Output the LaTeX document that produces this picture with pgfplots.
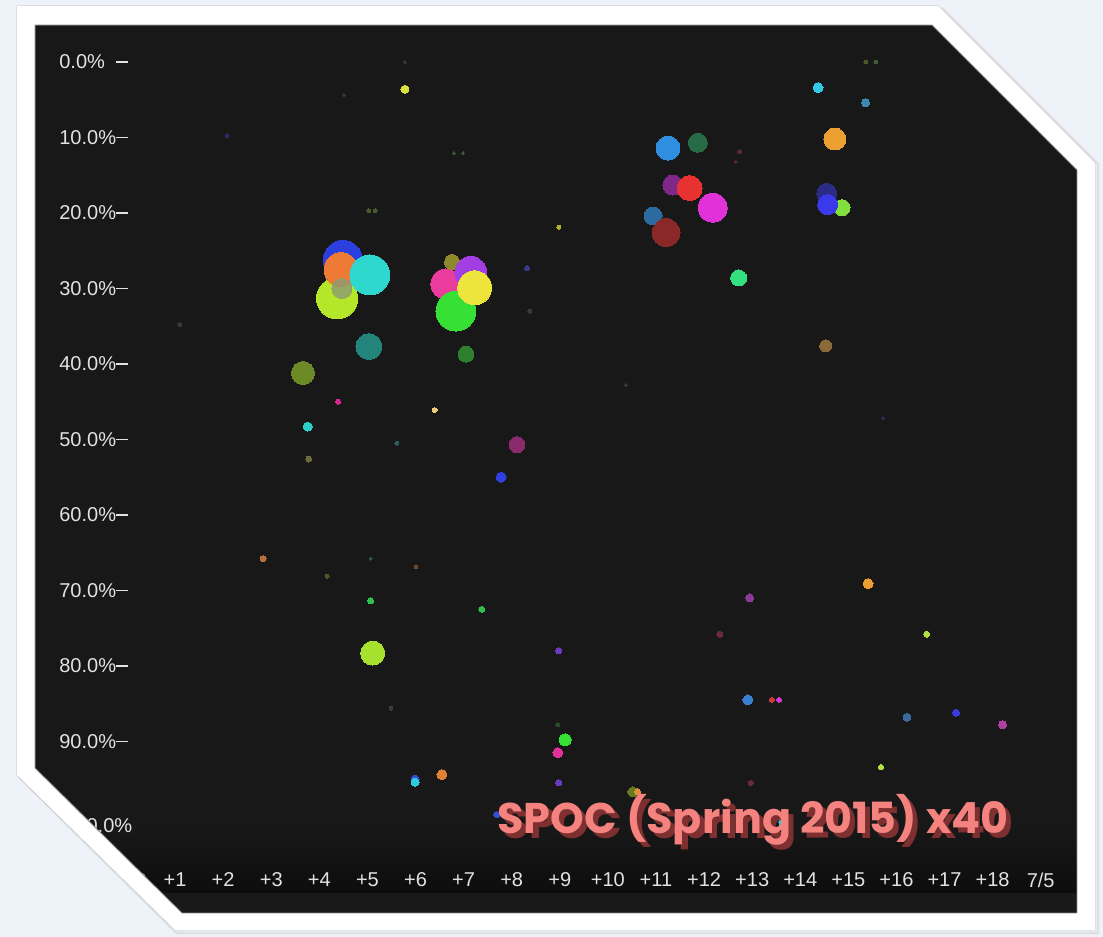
\documentclass[border=0pt]{standalone}
\usepackage{pgfplots}
\pgfplotsset{compat=1.18}
\usepackage{fontspec}
\setmainfont{Liberation Sans}
\newfontfamily\titlefont{Poppins}
% colours
\definecolor{pagebg}{HTML}{EEF3F9}
\definecolor{darkbg}{HTML}{181818}
\definecolor{lbl}{HTML}{E2E2E2}
\definecolor{titlec}{HTML}{F4837F}
\definecolor{titlesh}{HTML}{7E3030}
\definecolor{blueA}{HTML}{2B3FE0}
\definecolor{orangeA}{HTML}{EE7A36}
\definecolor{limeA}{HTML}{B4E62A}
\definecolor{grayA}{HTML}{8C9C72}
\definecolor{cyanA}{HTML}{2ED8CF}
\definecolor{oliveA}{HTML}{8E8A2C}
\definecolor{pinkA}{HTML}{EA3C9C}
\definecolor{purpleA}{HTML}{A23EE2}
\definecolor{yellowA}{HTML}{EDE43C}
\definecolor{greenA}{HTML}{36E034}
\definecolor{tealA}{HTML}{23847C}
\definecolor{olivegA}{HTML}{6C8A26}
\definecolor{dgreenA}{HTML}{2E802E}
\definecolor{yelS}{HTML}{D8E040}
\definecolor{blueB}{HTML}{2F8EE0}
\definecolor{dgreenB}{HTML}{276C47}
\definecolor{purpleB}{HTML}{80278A}
\definecolor{redB}{HTML}{E83232}
\definecolor{magB}{HTML}{E032D8}
\definecolor{steelB}{HTML}{2B6BA0}
\definecolor{dredB}{HTML}{8A2828}
\definecolor{cyanC}{HTML}{32C8E8}
\definecolor{steelC}{HTML}{3A8AB0}
\definecolor{orangeC}{HTML}{EDA032}
\definecolor{dblueC}{HTML}{2C2C88}
\definecolor{limeC}{HTML}{80E03C}
\definecolor{blueC}{HTML}{3A3AEA}
\definecolor{gtealC}{HTML}{32E080}
\definecolor{brownC}{HTML}{8A6A36}
\definecolor{cyanD}{HTML}{2AD0C8}
\definecolor{pinkD}{HTML}{D02890}
\definecolor{orwD}{HTML}{F0C878}
\definecolor{mpD}{HTML}{8A2A6C}
\definecolor{blueD}{HTML}{3040E0}
\definecolor{olivefD}{HTML}{6A6A40}
\definecolor{orfD}{HTML}{B87040}
\definecolor{greenD}{HTML}{30C050}
\definecolor{limeD}{HTML}{A8E030}
\definecolor{purD}{HTML}{6A3AC0}
\definecolor{pinkE}{HTML}{E0329A}
\definecolor{orangeE}{HTML}{E08032}
\definecolor{blueE}{HTML}{3050D0}
\definecolor{cyanE}{HTML}{30C8E0}
\definecolor{olivE}{HTML}{6A7A20}
\definecolor{orangeF}{HTML}{E09040}
\definecolor{purG}{HTML}{8A3A9A}
\definecolor{dredG}{HTML}{6A2A3A}
\definecolor{limeG}{HTML}{B0E040}
\definecolor{blueG}{HTML}{3A80D0}
\definecolor{redG}{HTML}{D03A3A}
\definecolor{magG}{HTML}{D03AD0}
\definecolor{steelG}{HTML}{3A6AA0}
\definecolor{blueH}{HTML}{3A3AE0}
\definecolor{magH}{HTML}{B040A0}
\definecolor{fA}{HTML}{3A3A30}
\definecolor{fB}{HTML}{4A5A2A}
\definecolor{fC}{HTML}{2A2A6A}
\definecolor{fD}{HTML}{B0B030}
\definecolor{fE}{HTML}{3A3A8A}
\definecolor{fF}{HTML}{3A5A3A}
\definecolor{fG}{HTML}{5A2A2A}
\definecolor{fH}{HTML}{2A5A5A}
\definecolor{fI}{HTML}{6A4A30}
\definecolor{fJ}{HTML}{3A3A3A}
\definecolor{fK}{HTML}{2A4A2A}
% x = day offset, y = percentage, r = bubble radius (px), colour
\newcommand{\bub}[4]{\addplot[only marks, color=#4, mark=*, mark size={#3*0.5669pt}, mark options={solid, fill=#4, draw=#4, line width=0pt}] coordinates {(#1,#2)};}
\newcommand{\bubo}[5]{\addplot[only marks, color=#4, mark=*, mark size={#3*0.5669pt}, mark options={solid, fill=#4, draw=#4, line width=0pt, opacity=#5}] coordinates {(#1,#2)};}
\newcommand{\outerpoly}{(17,6) -- (938,6) -- (1095,163) -- (1095,930) -- (175,930) -- (17,775) -- cycle}
\newcommand{\innerpoly}{(35,25) -- (932,25) -- (1077,170) -- (1077,913) -- (182,913) -- (35,768) -- cycle}
\newcommand{\titletext}{SPOC (Spring 2015) x40}
\begin{document}
\begin{tikzpicture}[x=0.02cm, y=-0.02cm]
% page background, frame and dark panel
\fill[pagebg] (0,0) rectangle (1103,937);
\fill[white] \outerpoly;
\fill[darkbg] \innerpoly;
\begin{scope}
\clip \innerpoly;
\shade[top color=darkbg, bottom color=black!95!white] (35,825) rectangle (1077,893);
\fill[black!90!white] (35,893) rectangle (1077,913);
\end{scope}
\begin{axis}[
  at={(0.70cm,-18.26cm)}, anchor=south west,
  width=20.84cm, height=17.76cm, scale only axis,
  xmin=-1.9127, xmax=19.7505, ymin=-4.9007, ymax=112.715, y dir=reverse,
  axis line style={draw=none}, major tick length=0pt,
  xtick={0,...,19},
  xticklabels={2/23,+1,+2,+3,+4,+5,+6,+7,+8,+9,+10,+11,+12,+13,+14,+15,+16,+17,+18,7/5},
  xticklabel style={anchor=center, yshift=0.66cm, text=lbl, inner sep=0pt, font=\fontsize{11.4}{13}\selectfont},
  ytick={0,10,...,90},
  yticklabels={0.0\%,10.0\%,20.0\%,30.0\%,40.0\%,50.0\%,60.0\%,70.0\%,80.0\%,90.0\%},
  yticklabel style={anchor=west, xshift=0.48cm, text=lbl, inner sep=0pt, font=\fontsize{11.4}{13}\selectfont},
  extra y ticks={100}, extra y tick labels={100.0\%},
  extra y tick style={yticklabel style={yshift=-0.18cm, xshift=0.1cm}},
  clip=true,
]
% faint background dots
\bub{1.10}{34.8}{2}{fA}
\bub{5.03}{19.7}{2}{fB}
\bub{5.16}{19.7}{2}{fB}
\bub{2.08}{9.8}{2}{fC}
\bub{8.98}{21.9}{2}{fD}
\bub{8.32}{27.3}{2.5}{fE}
\bub{15.36}{0.0}{2}{fB}
\bub{15.57}{0.0}{2}{fF}
\bub{8.38}{33.0}{2}{fA}
\bub{5.78}{0.0}{1.5}{fA}
\bub{4.51}{4.4}{1.5}{fA}
\bub{6.80}{12.1}{1.5}{fF}
\bub{6.99}{12.1}{1.5}{fF}
\bub{5.49}{85.6}{2}{fJ}
\bub{6.01}{66.9}{2}{fI}
\bub{4.16}{68.1}{2}{fB}
\bub{5.07}{65.8}{1.5}{fH}
\bub{5.61}{50.5}{2}{fH}
\bub{12.74}{11.9}{2}{fG}
\bub{12.66}{13.2}{1.5}{fG}
\bub{15.72}{47.2}{1.5}{fC}
\bub{10.37}{42.8}{1.5}{fJ}
\bub{8.96}{87.8}{2}{fK}
% left cluster
\bub{4.49}{26.2}{19.5}{blueA}
\bub{4.37}{31.3}{20.7}{limeA}
\bub{4.45}{27.5}{17}{orangeA}
\bubo{4.47}{30.0}{10}{grayA}{0.8}
\bub{5.05}{28.2}{20}{cyanA}
% middle cluster
\bub{6.63}{29.4}{15}{pinkA}
\bub{6.76}{26.5}{7.5}{oliveA}
\bub{7.15}{27.9}{16}{purpleA}
\bub{6.84}{33.0}{20}{greenA}
\bub{7.23}{29.9}{17}{yellowA}
\bub{5.03}{37.7}{13}{tealA}
\bub{3.66}{41.2}{11.5}{olivegA}
\bub{7.05}{38.7}{8}{dgreenA}
\bub{5.78}{3.6}{4}{yelS}
% upper right clusters
\bub{11.25}{11.4}{12}{blueB}
\bub{11.87}{10.7}{9.5}{dgreenB}
\bub{11.35}{16.3}{10}{purpleB}
\bub{11.70}{16.7}{12.5}{redB}
\bub{12.18}{19.3}{14.5}{magB}
\bub{10.94}{20.4}{9}{steelB}
\bub{11.21}{22.6}{14}{dredB}
\bub{14.37}{3.4}{5}{cyanC}
\bub{15.36}{5.4}{4}{steelC}
\bub{14.72}{10.2}{11}{orangeC}
\bub{14.55}{17.4}{10}{dblueC}
\bub{14.87}{19.3}{8}{limeC}
\bub{14.57}{18.9}{10}{blueC}
\bub{12.72}{28.6}{8}{gtealC}
\bub{14.53}{37.6}{6}{brownC}
% middle and lower dots
\bub{3.76}{48.3}{4.5}{cyanD}
\bub{4.39}{45.0}{2.5}{pinkD}
\bub{6.40}{46.1}{2.5}{orwD}
\bub{8.11}{50.7}{8}{mpD}
\bub{7.78}{55.0}{5}{blueD}
\bub{3.78}{52.6}{3}{olivefD}
\bub{2.83}{65.8}{3}{orfD}
\bub{5.07}{71.4}{3}{greenD}
\bub{7.38}{72.5}{3}{greenD}
\bub{5.11}{78.3}{12}{limeD}
\bub{8.98}{78.0}{3}{purD}
\bub{9.11}{89.8}{6}{greenA}
\bub{8.96}{91.5}{5}{pinkE}
\bub{6.55}{94.4}{5}{orangeE}
\bub{5.99}{95.0}{4}{blueE}
\bub{5.99}{95.4}{4}{cyanE}
\bub{8.98}{95.5}{3}{purD}
\bub{10.52}{96.7}{5}{olivE}
\bub{10.62}{96.7}{3}{orangeF}
\bub{15.41}{69.1}{5}{orangeC}
\bub{12.95}{71.0}{4}{purG}
\bub{12.33}{75.8}{3}{dredG}
\bub{16.63}{75.8}{3}{limeG}
\bub{12.91}{84.5}{5}{blueG}
\bub{13.41}{84.5}{2.5}{redG}
\bub{13.56}{84.5}{2.5}{magG}
\bub{16.22}{86.8}{4}{steelG}
\bub{17.24}{86.2}{3.5}{blueH}
\bub{18.21}{87.8}{4}{magH}
\bub{15.68}{93.4}{2.5}{limeG}
\bub{12.97}{95.5}{2.5}{dredG}
\bub{13.62}{100.8}{3}{cyanE}
\bub{7.69}{99.7}{3}{blueE}
\end{axis}
% y tick dashes
\foreach \i in {0,...,9} \draw[lbl, line width=0.7pt] (116,{62+75.5*\i}) -- (128,{62+75.5*\i});
% title with shadow (one text node)
\node[inner sep=0pt] at (753,822) {\resizebox{10.22cm}{!}{\titlefont\bfseries\rlap{\kern1.2pt\raisebox{-1.2pt}{\color{titlesh}\titletext}}\color{titlec}\titletext}};
% cover everything outside the frame, then the white band
\fill[pagebg, even odd rule] (0,0) rectangle (1103,937) \outerpoly;
\draw[black!12, line width=1.6pt] (942,8) -- (1098,164) -- (1098,933) -- (177,933) -- (19,777);
\draw[black!28, line width=0.5pt] \outerpoly;
\fill[white, even odd rule] \outerpoly \innerpoly;
\draw[black!45, line width=0.5pt] \innerpoly;
\pgfresetboundingbox
\path[use as bounding box] (0,0) rectangle (1103,937);
\end{tikzpicture}
\end{document}
